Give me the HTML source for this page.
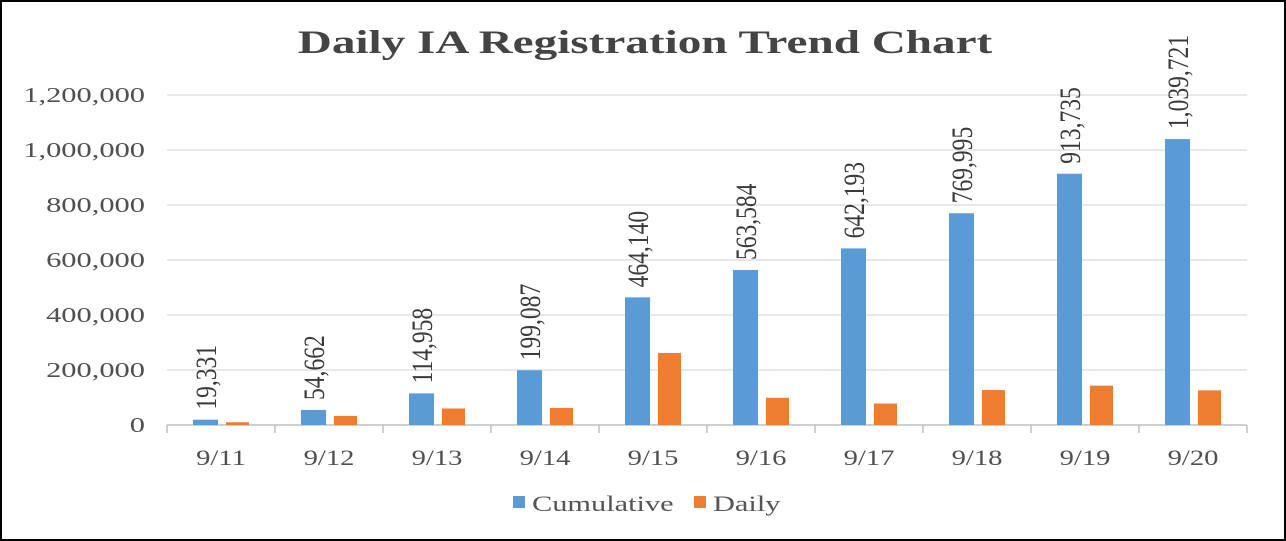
<!DOCTYPE html>
<html><head><meta charset="utf-8"><style>
body{margin:0;background:#fff}
svg{display:block;font-family:"Liberation Serif",serif}
</style></head><body>
<svg width="1286" height="541">
<rect x="1" y="1" width="1284" height="539" fill="#fff" stroke="#000" stroke-width="2"/>
<text transform="translate(645,53) scale(1.43,1)" x="0" y="0" text-anchor="middle" font-size="33" font-weight="bold" fill="#444">Daily IA Registration Trend Chart</text>
<g id="grid"></g><g id="bars"></g><g id="axes"></g>
<g>
<rect x="513" y="496" width="12" height="12" fill="#5b9bd5"/>
<text transform="translate(532,511) scale(1.38,1)" font-size="22" fill="#555">Cumulative</text>
<rect x="694" y="496" width="12" height="12" fill="#ed7d31"/>
<text transform="translate(713,511) scale(1.38,1)" font-size="22" fill="#555">Daily</text>
</g>
</svg>
<script>
const categories=["9/11","9/12","9/13","9/14","9/15","9/16","9/17","9/18","9/19","9/20"];
const cumulative=[19331,54662,114958,199087,464140,563584,642193,769995,913735,1039721];
const daily=[10000,33000,60000,62000,262000,99000,78000,127000,143000,126000];
const yTicks=[0,200000,400000,600000,800000,1000000,1200000];
const NS="http://www.w3.org/2000/svg";
const x0=167,x1=1247,y0=425,yTop=95,yMax=1200000;
const bw=(x1-x0)/categories.length;
function y(v){return y0-(v/yMax)*(y0-yTop);}
function xc(i){return x0+bw*(i+0.5);}
function mk(t,a,p){const e=document.createElementNS(NS,t);for(const k in a)e.setAttribute(k,a[k]);p.appendChild(e);return e;}
const fmt=v=>v.toLocaleString("en-US");
const G=document.getElementById("grid"),B=document.getElementById("bars"),A=document.getElementById("axes");
yTicks.forEach(v=>{
 const l=mk("line",{x1:x0,x2:x1,y1:y(v),y2:y(v),stroke:v?"#d9d9d9":"#bfbfbf","stroke-width":v?1.3:1.6},G);
 
 
 const t=mk("text",{x:0,y:0,transform:`translate(${x0-22},${y(v)+7}) scale(1.45,1)`,"text-anchor":"end","font-size":21,fill:"#505050"},A);
 t.textContent=fmt(v);
 
 
});
for(let i=0;i<=categories.length;i++){
 const tk=mk("line",{x1:x0+bw*i,x2:x0+bw*i,y1:y0,y2:y0+8,stroke:"#bfbfbf","stroke-width":1.5},A);
 
 
}
categories.forEach((c,i)=>{
 const cx=xc(i);
 const t=mk("text",{x:0,y:0,transform:`translate(${cx},465) scale(1.3,1)`,"text-anchor":"middle","font-size":22,fill:"#505050"},A);
 t.textContent=c;
 
 
 const r1=mk("rect",{x:cx-28,y:y(cumulative[i]),width:25,height:y0-y(cumulative[i]),fill:"#5b9bd5"},B);
 
 
 const r2=mk("rect",{x:cx+5,y:y(daily[i]),width:23,height:y0-y(daily[i]),fill:"#ed7d31"},B);
 
 
 const lx=cx-5,ly=y(cumulative[i])-10;
 const lb=mk("text",{x:0,y:0,"font-size":22,fill:"#3a3a3a",transform:`translate(${lx},${ly}) rotate(-90) scale(1.07,1.35)`},B);
 lb.textContent=fmt(cumulative[i]);
 
 
});
</script>
</body></html>
